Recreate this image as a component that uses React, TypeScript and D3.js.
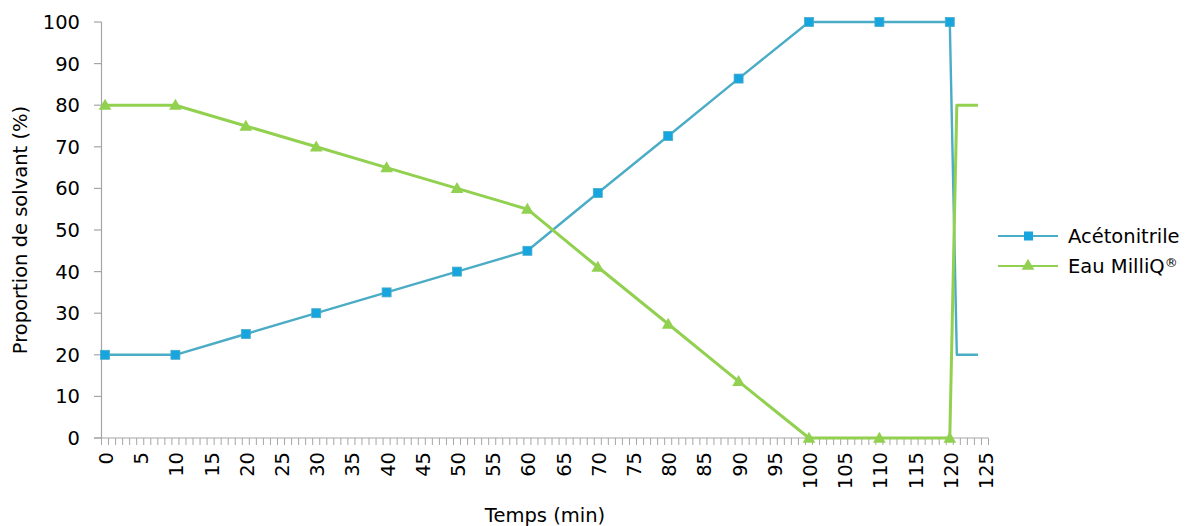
import React from "react";
import * as d3 from "d3";

const times = [0, 10, 20, 30, 40, 50, 60, 70, 80, 90, 100, 110, 120, 121, 124];
const acetonitrile = [20, 20, 25, 30, 35, 40, 45, 58.9, 72.6, 86.4, 100, 100, 100, 20, 20];
const eau = [80, 80, 75, 70, 65, 60, 55, 41.1, 27.4, 13.6, 0, 0, 0, 80, 80];
const markerTimes = [0, 10, 20, 30, 40, 50, 60, 70, 80, 90, 100, 110, 120];
const yTicks = [0, 10, 20, 30, 40, 50, 60, 70, 80, 90, 100];
const categories = d3.range(0, 126);
const labelEvery = 5;

const W = 1185, H = 526;
const FONT = "'DejaVu Sans', sans-serif";
const FS = 19.5;
const BLUE = "#4BACC6";
const BLUE_MK = "#17A5E0";
const GREEN = "#92D050";
const AXIS = "#A6A6A6";

export default function App() {
  const x = d3.scaleLinear().domain([-0.5, 125.5]).range([101.5, 988.5]);
  const y = d3.scaleLinear().domain([0, 100]).range([438, 22]);
  const line = d3.line<[number, number]>().x(d => x(d[0])).y(d => y(d[1]));
  const aData = times.map((t, i) => [t, acetonitrile[i]] as [number, number]);
  const eData = times.map((t, i) => [t, eau[i]] as [number, number]);
  const boundaries = d3.range(0, 127).map(i => i - 0.5);
  const tri = d3.symbol().type(d3.symbolTriangle).size(70)();

  return (
    <svg width={W} height={H} style={{ position: "absolute", left: 0, top: 0, background: "#fff" }}>
      {/* y axis */}
      <line x1={x(-0.5)} x2={x(-0.5)} y1={y(100)} y2={y(0)} stroke={AXIS} strokeWidth={1.2} />
      {yTicks.map(v => (
        <g key={v}>
          <line x1={94} x2={x(-0.5)} y1={y(v)} y2={y(v)} stroke={AXIS} strokeWidth={1.2} />
          <text x={80} y={y(v)} dy="0.36em" textAnchor="end" fontFamily={FONT} fontSize={FS} fill="#000">{v}</text>
        </g>
      ))}
      {/* x axis */}
      <line x1={94} x2={x(125.5)} y1={y(0)} y2={y(0)} stroke={AXIS} strokeWidth={1.2} />
      {boundaries.map((b, i) => (
        <line key={i} x1={x(b)} x2={x(b)} y1={y(0)} y2={y(0) + 7} stroke={AXIS} strokeWidth={1} />
      ))}
      {categories.filter(c => c % labelEvery === 0).map(c => (
        <text key={c} transform={`translate(${x(c) + 1},452) rotate(-90)`} dy="0.36em" textAnchor="end"
          fontFamily={FONT} fontSize={FS} fill="#000">{c}</text>
      ))}
      {/* lines */}
      <path d={line(aData) || ""} fill="none" stroke={BLUE} strokeWidth={2.4} strokeLinejoin="round" />
      <path d={line(eData) || ""} fill="none" stroke={GREEN} strokeWidth={3} strokeLinejoin="round" />
      {markerTimes.map(t => {
        const i = times.indexOf(t);
        return (
          <rect key={"a" + t} x={x(t) - 4.5} y={y(acetonitrile[i]) - 4.5} width={9} height={9} fill={BLUE_MK} stroke={BLUE} strokeWidth={0.8} />
        );
      })}
      {markerTimes.map(t => {
        const i = times.indexOf(t);
        return (
          <path key={"e" + t} d={tri || ""} transform={`translate(${x(t)},${y(eau[i]) + 1})`} fill={GREEN} />
        );
      })}
      {/* axis titles */}
      <text x={545} y={515} dy="0.36em" textAnchor="middle" fontFamily={FONT} fontSize={FS} fill="#000">Temps (min)</text>
      <text transform={`translate(20,230) rotate(-90)`} dy="0.36em" textAnchor="middle" fontFamily={FONT} fontSize={FS} fill="#000">Proportion de solvant (%)</text>
      {/* legend */}
      <line x1={998} x2={1058} y1={236} y2={236} stroke={BLUE} strokeWidth={2} />
      <rect x={1024} y={231.5} width={9} height={9} fill={BLUE_MK} />
      <text x={1068} y={236} dy="0.36em" fontFamily={FONT} fontSize={FS} fill="#000">Acétonitrile</text>
      <line x1={998} x2={1058} y1={266} y2={266} stroke={GREEN} strokeWidth={2} />
      <path d={tri || ""} transform={`translate(1028,266)`} fill={GREEN} />
      <text x={1068} y={266} dy="0.36em" fontFamily={FONT} fontSize={FS} fill="#000">Eau MilliQ<tspan fontSize={13} dy="-0.45em">®</tspan></text>
    </svg>
  );
}
